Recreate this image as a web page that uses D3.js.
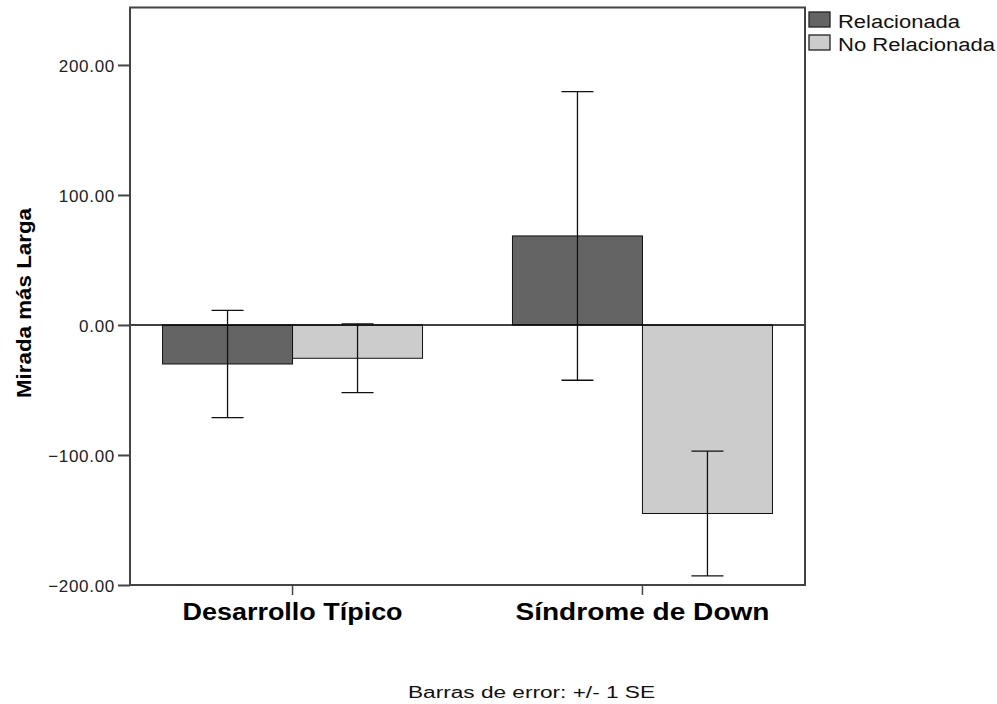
<!DOCTYPE html>
<html>
<head>
<meta charset="utf-8">
<script src="https://cdn.jsdelivr.net/npm/d3@7"></script>
<style>
  body { margin: 0; background: #fff; }
  svg { font-family: "Liberation Sans", Arial, sans-serif; }
</style>
</head>
<body>
<svg id="chart" width="997" height="704"></svg>
<script>
// data
var categories = ["Desarrollo Típico", "Síndrome de Down"]
var series = ["Relacionada", "No Relacionada"]
var relMeans = [-30, 68.5]
var relSE = [41.3, 111]
var noRelMeans = [-25.6, -145]
var noRelSE = [26.5, 48]
var yTicks = [-200, -100, 0, 100, 200]

var dims = {
    width: 997,
    height: 704,
    margin: { top: 7.5, bottom: 119, left: 130, right: 192 }
}
var plotRight = dims.width - dims.margin.right
var plotBottom = dims.height - dims.margin.bottom

var colors = { "Relacionada": "#646464", "No Relacionada": "#cccccc" }

var rows = []
categories.forEach(function(c, i) {
    rows.push({ cat: c, ser: series[0], mean: relMeans[i], se: relSE[i] })
    rows.push({ cat: c, ser: series[1], mean: noRelMeans[i], se: noRelSE[i] })
})

var svg = d3.select("#chart")

var xScale = d3.scaleBand()
               .domain(categories)
               .range([dims.margin.left, plotRight])
               .paddingInner(0.257)
               .paddingOuter(0.093)

var subScale = d3.scaleBand()
                 .domain(series)
                 .range([0, xScale.bandwidth()])

var yScale = d3.scaleLinear()
               .domain([-200, 244.2])
               .range([plotBottom, dims.margin.top])

// bars
svg.append("g")
   .selectAll("rect")
   .data(rows)
   .enter()
   .append("rect")
   .attr("x", d => xScale(d.cat) + subScale(d.ser))
   .attr("width", subScale.bandwidth())
   .attr("y", d => yScale(Math.max(0, d.mean)))
   .attr("height", d => Math.abs(yScale(d.mean) - yScale(0)))
   .attr("fill", d => colors[d.ser])
   .attr("stroke", "#111")
   .attr("stroke-width", 1)

// zero line
svg.append("line")
   .attr("x1", dims.margin.left)
   .attr("x2", plotRight)
   .attr("y1", yScale(0))
   .attr("y2", yScale(0))
   .attr("stroke", "#000")
   .attr("stroke-width", 1.5)

// error bars
var errG = svg.append("g")
              .selectAll("g")
              .data(rows)
              .enter()
              .append("g")
              .attr("stroke", "#111")
              .attr("stroke-width", 1.3)

var cx = d => xScale(d.cat) + subScale(d.ser) + subScale.bandwidth() / 2

errG.append("line")
    .attr("x1", cx).attr("x2", cx)
    .attr("y1", d => yScale(d.mean + d.se))
    .attr("y2", d => yScale(d.mean - d.se))
errG.append("line")
    .attr("x1", d => cx(d) - 16).attr("x2", d => cx(d) + 16)
    .attr("y1", d => yScale(d.mean + d.se))
    .attr("y2", d => yScale(d.mean + d.se))
errG.append("line")
    .attr("x1", d => cx(d) - 16).attr("x2", d => cx(d) + 16)
    .attr("y1", d => yScale(d.mean - d.se))
    .attr("y2", d => yScale(d.mean - d.se))

// frame
svg.append("rect")
   .attr("x", dims.margin.left)
   .attr("y", dims.margin.top)
   .attr("width", plotRight - dims.margin.left)
   .attr("height", plotBottom - dims.margin.top)
   .attr("fill", "none")
   .attr("stroke", "#444")
   .attr("stroke-width", 2)

// y axis
var yAxisGen = d3.axisLeft(yScale)
                 .tickValues(yTicks)
                 .tickFormat(d3.format(".2f"))
                 .tickSize(12)
                 .tickPadding(3)

var yAxis = svg.append("g")
               .attr("transform", `translate(${dims.margin.left},0)`)
               .call(yAxisGen)
yAxis.select(".domain").remove()
yAxis.selectAll(".tick line").attr("stroke", "#444").attr("stroke-width", 2)
yAxis.selectAll(".tick text")
     .attr("font-size", "17px")
     .attr("letter-spacing", "0.7px")
     .attr("fill", "#222")
     .attr("dy", "0.36em")

// x axis
var xAxisGen = d3.axisBottom(xScale).tickSize(10)

var xAxis = svg.append("g")
               .attr("transform", `translate(0,${plotBottom})`)
               .call(xAxisGen)
xAxis.select(".domain").remove()
xAxis.selectAll(".tick line").attr("stroke", "#444").attr("stroke-width", 1.5)
var labelWidths = [220, 254]
xAxis.selectAll(".tick text")
     .attr("y", 34.5)
     .attr("dy", 0)
     .attr("font-size", "23px")
     .attr("font-weight", "bold")
     .attr("fill", "#000")
     .attr("textLength", (d, i) => labelWidths[i])
     .attr("lengthAdjust", "spacingAndGlyphs")

// y title
svg.append("text")
   .attr("transform", "translate(31,303) rotate(-90)")
   .attr("text-anchor", "middle")
   .attr("font-size", "21px")
   .attr("font-weight", "bold")
   .attr("textLength", 190)
   .attr("lengthAdjust", "spacingAndGlyphs")
   .text("Mirada más Larga")

// legend
var legendWidths = [122, 157]
var legend = svg.append("g")
                .selectAll("g")
                .data(series)
                .enter()
                .append("g")
                .attr("transform", (d, i) => `translate(809,${12 + i * 23})`)
legend.append("rect")
      .attr("width", 21)
      .attr("height", 15)
      .attr("fill", d => colors[d])
      .attr("stroke", "#222")
      .attr("stroke-width", 1.3)
legend.append("text")
      .attr("x", 29)
      .attr("y", 16)
      .attr("font-size", "18px")
      .attr("fill", "#111")
      .attr("textLength", (d, i) => legendWidths[i])
      .attr("lengthAdjust", "spacingAndGlyphs")
      .text(d => d)

// footnote
svg.append("text")
   .attr("x", 531.5)
   .attr("y", 698)
   .attr("text-anchor", "middle")
   .attr("font-size", "16px")
   .attr("fill", "#111")
   .attr("textLength", 247)
   .attr("lengthAdjust", "spacingAndGlyphs")
   .text("Barras de error: +/- 1 SE")
</script>
</body>
</html>
